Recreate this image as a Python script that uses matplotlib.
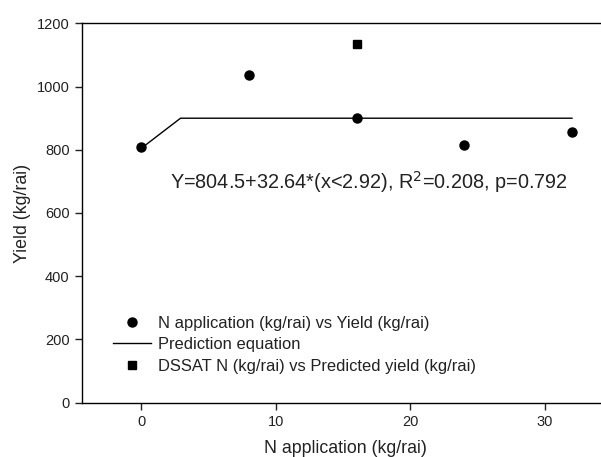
import numpy as np
import matplotlib
matplotlib.use("Agg")
import matplotlib.pyplot as plt

plt.rcParams['font.family'] = ['Liberation Sans', 'DejaVu Sans']

# observed data
n_rate = [0, 8, 16, 24, 32]
yield_obs = [808, 1037, 901, 816, 857]

# DSSAT point
dssat_n = [16]
dssat_yield = [1134]

# prediction equation Y = a + b*(x<c)
a = 804.5
b = 32.64
c = 2.92
pred_x = [0, c, 32]
pred_y = [a, a + b * c, a + b * c]

fig = plt.figure(figsize=(6.01, 4.57), dpi=100)
ax = fig.add_axes([82/601, 54.3/457, (609-82)/601, 379.4/457])

ax.plot(n_rate, yield_obs, 'ko', ms=6.5, ls='none',
        label='N application (kg/rai) vs Yield (kg/rai)')
ax.plot(pred_x, pred_y, 'k-', lw=1, label='Prediction equation')
ax.plot(dssat_n, dssat_yield, 'ks', ms=6, ls='none',
        label='DSSAT N (kg/rai) vs Predicted yield (kg/rai)')

ax.set_xlim(-4.4, 34.75)
ax.set_ylim(0, 1200)
ax.set_xticks([0, 10, 20, 30])
ax.set_yticks([0, 200, 400, 600, 800, 1000, 1200])
ax.tick_params(direction='out', length=5, width=1, labelsize=10.5, pad=4,
               colors='#222222')
ax.spines['right'].set_visible(False)
for s in ['top', 'left', 'bottom']:
    ax.spines[s].set_linewidth(1)

ax.set_xlabel('N application (kg/rai)', fontsize=12.8, labelpad=8, color='#222222')
ax.set_ylabel('Yield (kg/rai)', fontsize=12.8, labelpad=4, color='#222222')

ax.text(2.15, 698, 'Y=804.5+32.64*(x<2.92), R$^2$=0.208, p=0.792',
        fontsize=14.3, ha='left', va='center', color='#222222')

leg = fig.legend(loc='upper left', bbox_to_anchor=(113/601, (457-316)/457),
                 frameon=False, borderpad=0, borderaxespad=0,
                 handlelength=2.3, handletextpad=0.4, labelspacing=0.38,
                 fontsize=11.9)
for t in leg.get_texts():
    t.set_color('#222222')

fig.savefig('out.png', dpi=100)
